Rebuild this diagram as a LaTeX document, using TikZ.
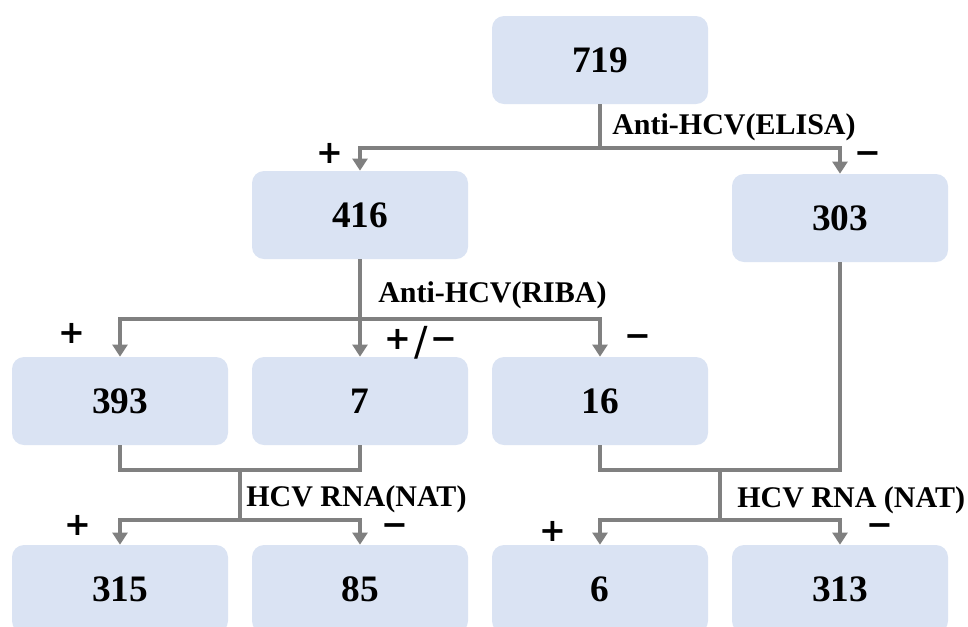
\documentclass[tikz,border=0pt]{standalone}
\usepackage{fontspec}
\setmainfont{Liberation Serif}
\newfontfamily\zeichenfont{DejaVu Sans}
\usetikzlibrary{arrows.meta}

\definecolor{boxblau}{RGB}{218,227,243}
\definecolor{liniengrau}{RGB}{128,128,128}

\tikzset{
  kasten/.style={fill=boxblau, rounded corners=9pt, minimum width=162pt, minimum height=66pt,
    font=\fontsize{28}{30}\selectfont\bfseries},
  linie/.style={draw=liniengrau, line width=3pt},
  pfeil/.style={linie, -{Triangle[width=11pt,length=9pt]}},
  test/.style={anchor=west, inner sep=0pt, font=\fontsize{22.5}{24}\selectfont\bfseries},
  zeichen/.style={inner sep=0pt, font=\zeichenfont\fontsize{24}{25}\selectfont\bfseries}
}

\begin{document}
\begin{tikzpicture}[x=0.75pt,y=-0.75pt]
        \useasboundingbox (0,0) rectangle (968,626);

        %Kästen
        \node[kasten] (b719) at (600,60) {719};
        \node[kasten] (b416) at (360,215) {416};
        \node[kasten] (b303) at (840,218) {303};
        \node[kasten] (b393) at (120,401) {393};
        \node[kasten] (b7)   at (360,401) {7};
        \node[kasten] (b16)  at (600,401) {16};
        \node[kasten] (b315) at (120,589) {315};
        \node[kasten] (b85)  at (360,589) {85};
        \node[kasten] (b6)   at (600,589) {6};
        \node[kasten] (b313) at (840,589) {313};

        %Verzweigungen
        \coordinate (elisa) at (600,148);
        \coordinate (riba)  at (360,319);
        \coordinate (joinL) at (240,470);
        \coordinate (natL)  at (240,520);
        \coordinate (joinR) at (720,470);
        \coordinate (natR)  at (720,520);

        %Linien und Pfeile
        \draw[linie] (b719.south) -- (elisa);
        \draw[pfeil] (elisa) -| (b416.north);
        \draw[pfeil] (elisa) -| (b303.north);

        \draw[pfeil] (b416.south) -- (b7.north);
        \draw[pfeil] (riba) -| (b393.north);
        \draw[pfeil] (riba) -| (b16.north);

        \draw[linie] (b393.south) |- (joinL) -| (b7.south);
        \draw[linie] (joinL) -- (natL);
        \draw[pfeil] (natL) -| (b315.north);
        \draw[pfeil] (natL) -| (b85.north);

        \draw[linie] (b16.south) |- (joinR) -| (b303.south);
        \draw[linie] (joinR) -- (natR);
        \draw[pfeil] (natR) -| (b6.north);
        \draw[pfeil] (natR) -| (b313.north);

        %Beschriftung
        \node[test] (tElisa) at (612,127) {Anti-HCV(ELISA)};
        \node[test] (tRiba)  at (378,295) {Anti-HCV(RIBA)};
        \node[test] (tNatL)  at (246,499) {HCV RNA(NAT)};
        \node[test] (tNatR)  at (737,500) {HCV RNA (NAT)};

        %Vorzeichen
        \node[zeichen] (s1) at (330,153) {+};
        \node[zeichen] (s2) at (868,158) {−};
        \node[zeichen] (s3) at (72,333)  {+};
        \node[zeichen] (s4) at (421,343) {+\kern2pt{\mdseries\raisebox{-5pt}{\fontsize{30}{30}\selectfont /}}\kern2pt−};
        \node[zeichen] (s5) at (638,341) {−};
        \node[zeichen] (s6) at (78,525)  {+};
        \node[zeichen] (s7) at (395,530) {−};
        \node[zeichen] (s8) at (553,531) {+};
        \node[zeichen] (s9) at (880,530) {−};
\end{tikzpicture}
\end{document}
